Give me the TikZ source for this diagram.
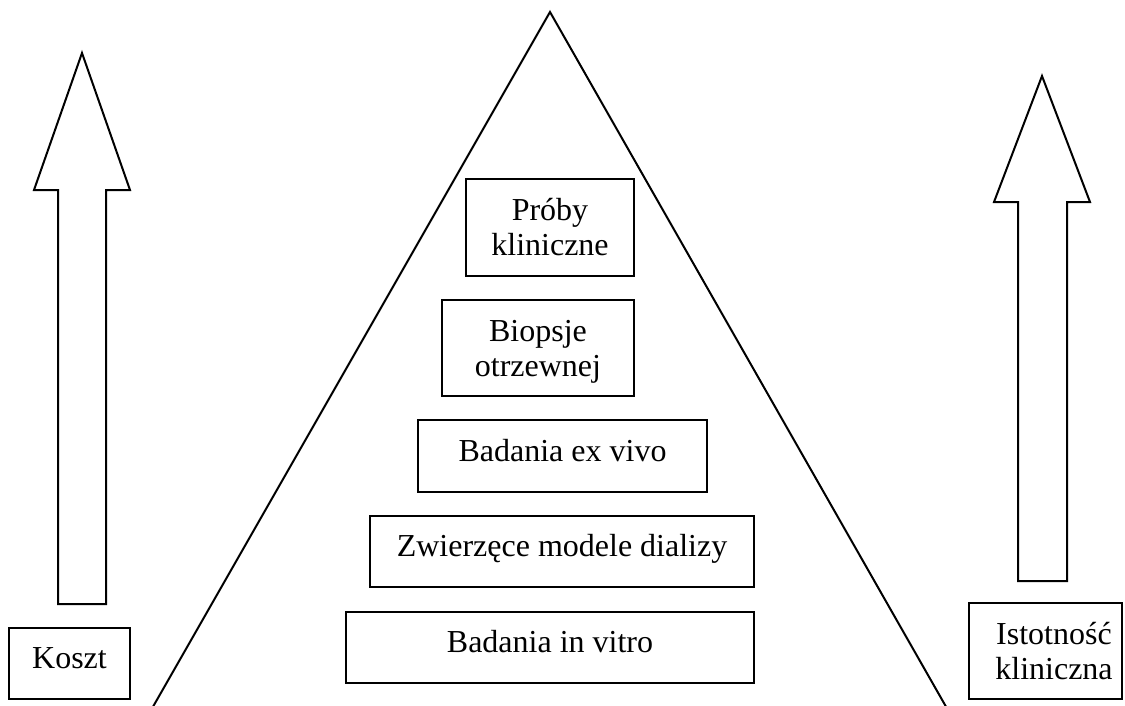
\documentclass[tikz,border=0pt]{standalone}
\usepackage{fontspec}
\setmainfont{Liberation Serif}
\begin{document}
\begin{tikzpicture}[x=1pt,y=-1pt,line width=2pt,
  txt/.style={inner sep=0pt,align=center,font=\fontsize{32}{35}\selectfont},
  box/.style={txt,draw,rectangle},
  one/.style={text height=21pt,text depth=11pt},
  blockarrow/.style={draw,line join=miter}]
\useasboundingbox (0,0) rectangle (1125,705);
\begin{scope}
\clip (0,0) rectangle (1125,705);
\coordinate (apex) at (550,12);
\coordinate (bl) at (145.4,720);
\coordinate (br) at (953.6,720);
\draw (bl) -- (apex) -- (br);
\end{scope}
% left block arrow
\draw[blockarrow] (82,53) -- (130,190) -- (106,190) -- (106,604) -- (58,604) -- (58,190) -- (34,190) -- cycle;
% right block arrow
\draw[blockarrow] (1042,76) -- (1090,202) -- (1067,202) -- (1067,581) -- (1018,581) -- (1018,202) -- (994,202) -- cycle;
% pyramid boxes
\node[box,minimum width=168pt,minimum height=97pt] (proby) at (550,227.5) {Próby\\kliniczne};
\node[box,minimum width=192pt,minimum height=96pt,text depth=0pt] (biopsje) at (538,348) {Biopsje\\otrzewnej};
\node[box,one,minimum width=289pt,minimum height=72pt] (exvivo) at (562.5,456) {Badania ex vivo};
\node[box,one,minimum width=384pt,minimum height=71pt] (zwierz) at (562,551.5) {Zwierzęce modele dializy};
\node[box,one,minimum width=408pt,minimum height=71pt] (invitro) at (550,647.5) {Badania in vitro};
% side labels
\node[box,one,minimum width=121pt,minimum height=71pt] (koszt) at (69.5,663.5) {Koszt};
\node[draw,rectangle,minimum width=153pt,minimum height=96pt] (istbox) at (1045.5,651) {};
\node[txt] (isttxt) at (1054,651) {Istotność\\kliniczna};
\end{tikzpicture}
\end{document}
